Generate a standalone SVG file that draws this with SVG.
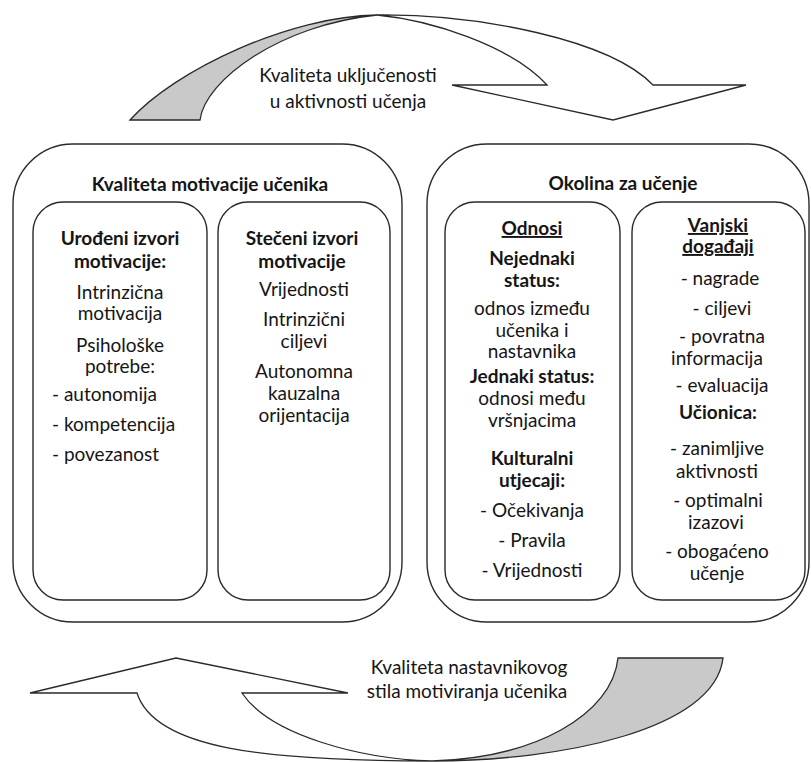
<svg xmlns="http://www.w3.org/2000/svg" width="811" height="762" viewBox="0 0 811 762">
  <style>
    .box { fill: #ffffff; stroke: #2a2a2a; stroke-width: 1.4; }
    .arc { stroke: #2a2a2a; stroke-width: 1.3; stroke-linejoin: miter; }
    .band { fill: #c9c9c9; }
    .face { fill: #ffffff; }
    text { font-family: Lato, "Liberation Sans", sans-serif; font-size: 19px; fill: #151515; text-anchor: middle; }
    .b { font-weight: bold; }
    .l { text-anchor: start; }
    .u { text-decoration: underline; }
  </style>

  <rect width="811" height="762" fill="#ffffff"/>

  <!-- cycle arrows between the two panels -->
  <g id="connectors">
    <g id="arrow-top">
      <path class="arc band" d="M130,120 C175,70 290,16 377,15 C280,25 205,80 200,120 Z"/>
      <path class="arc face" d="M377,15 C480,14 610,40 653,85 L746,85 L613,120 L452,85 L547,85 C510,45 430,20 377,15 Z"/>
      <text x="348" y="82">Kvaliteta uključenosti</text>
      <text x="348" y="108">u aktivnosti učenja</text>
    </g>
    <g id="arrow-bottom">
      <path class="arc face" d="M137,693 C155,750 270,761 432,761 C360,759 270,735 242,693 L348,693 L176,658 L30,693 Z"/>
      <path class="arc band" d="M432,761 C560,761 715,730 723,658 L618,658 C612,715 535,758 432,761 Z"/>
      <text x="469" y="674">Kvaliteta nastavnikovog</text>
      <text x="467" y="698">stila motiviranja učenika</text>
    </g>
  </g>

  <!-- left panel: student motivation -->
  <g id="motivation">
    <rect class="box" x="13" y="144" width="389" height="478" rx="60" ry="60"/>
    <text class="b" x="210" y="191">Kvaliteta motivacije učenika</text>
  </g>

  <g id="innate">
    <rect class="box" x="33" y="202" width="174" height="398" rx="30" ry="30"/>
    <text class="b" x="120" y="245">Urođeni izvori</text>
    <text class="b" x="120" y="268">motivacije:</text>
    <text x="120" y="299">Intrinzična</text>
    <text x="120" y="320">motivacija</text>
    <text x="120" y="352">Psihološke</text>
    <text x="120" y="373">potrebe:</text>
    <text class="l" x="52" y="401">- autonomija</text>
    <text class="l" x="52" y="431">- kompetencija</text>
    <text class="l" x="52" y="461">- povezanost</text>
  </g>

  <g id="acquired">
    <rect class="box" x="218" y="202" width="172" height="398" rx="30" ry="30"/>
    <text class="b" x="302" y="245">Stečeni izvori</text>
    <text class="b" x="302" y="268">motivacije</text>
    <text x="304" y="296">Vrijednosti</text>
    <text x="304" y="326">Intrinzični</text>
    <text x="304" y="348">ciljevi</text>
    <text x="304" y="378">Autonomna</text>
    <text x="304" y="400">kauzalna</text>
    <text x="304" y="422">orijentacija</text>
  </g>

  <!-- right panel: learning environment -->
  <g id="environment">
    <rect class="box" x="427" y="144" width="382" height="478" rx="60" ry="60"/>
    <text class="b" x="623" y="190">Okolina za učenje</text>
  </g>

  <g id="relations">
    <rect class="box" x="445" y="202" width="175" height="398" rx="30" ry="30"/>
    <text class="b u" x="532" y="235">Odnosi</text>
    <text class="b" x="532" y="265">Nejednaki</text>
    <text class="b" x="532" y="287">status:</text>
    <text x="532" y="315">odnos između</text>
    <text x="532" y="337">učenika i</text>
    <text x="532" y="358">nastavnika</text>
    <text class="b" x="532" y="383">Jednaki status:</text>
    <text x="532" y="405">odnosi među</text>
    <text x="532" y="427">vršnjacima</text>
    <text class="b" x="532" y="465">Kulturalni</text>
    <text class="b" x="532" y="487">utjecaji:</text>
    <text x="532" y="517">- Očekivanja</text>
    <text x="532" y="547">- Pravila</text>
    <text x="532" y="577">- Vrijednosti</text>
  </g>

  <g id="external">
    <rect class="box" x="632" y="202" width="173" height="398" rx="30" ry="30"/>
    <text class="b u" x="718" y="232">Vanjski</text>
    <text class="b u" x="718" y="253">događaji</text>
    <text x="720" y="285">- nagrade</text>
    <text x="722" y="315">- ciljevi</text>
    <text x="722" y="343">- povratna</text>
    <text x="717" y="365">informacija</text>
    <text x="722" y="392">- evaluacija</text>
    <text class="b" x="718" y="419">Učionica:</text>
    <text x="717" y="455">- zanimljive</text>
    <text x="717" y="478">aktivnosti</text>
    <text x="718" y="507">- optimalni</text>
    <text x="716" y="529">izazovi</text>
    <text x="717" y="558">- obogaćeno</text>
    <text x="717" y="580">učenje</text>
  </g>
</svg>
